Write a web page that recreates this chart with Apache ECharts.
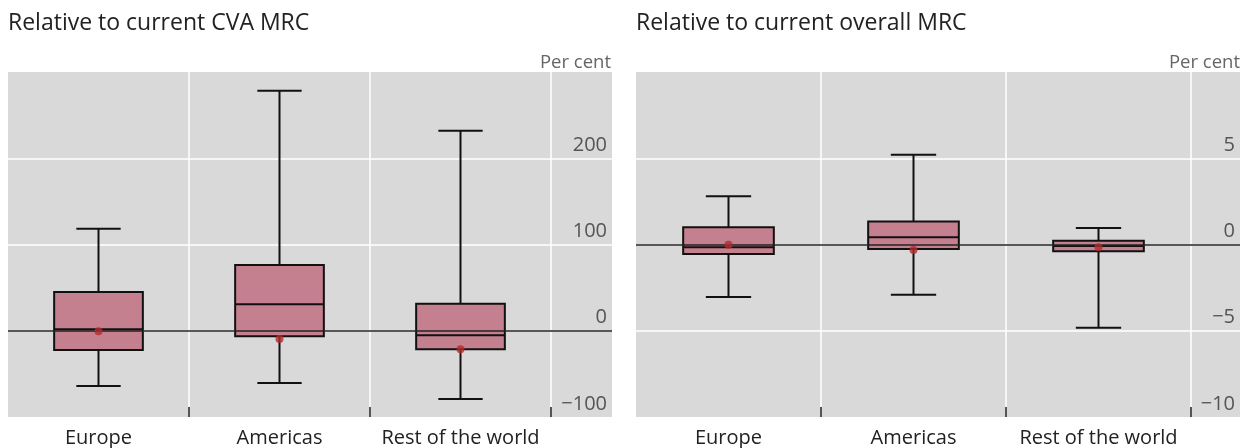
<!DOCTYPE html>
<html>
<head>
<meta charset="utf-8">
<script src="https://cdn.jsdelivr.net/npm/echarts@6/dist/echarts.min.js"></script>
<style>
html,body{margin:0;padding:0;background:#fff;}
#chart{width:1250px;height:448px;}
</style>
</head>
<body>
<div id="chart"></div>
<script>
// ---- Data ----
var categories = ['Europe', 'Americas', 'Rest of the world'];
var categoryPositions = [0.5, 1.5, 2.5];

// Left panel: relative to current CVA MRC (per cent)
var cvaMin    = [-64.1, -60.6, -79.1];
var cvaQ1     = [-22.3, -6.4, -21.5];
var cvaMedian = [1.7, 30.7, -5.3];
var cvaQ3     = [44.9, 76.2, 31.4];
var cvaMax    = [118.3, 278.3, 232.0];
var cvaMean   = [-0.6, -9.6, -21.5];

// Right panel: relative to current overall MRC (per cent)
var mrcMin    = [-3.04, -2.91, -4.82];
var mrcQ1     = [-0.55, -0.26, -0.39];
var mrcMedian = [-0.16, 0.42, -0.09];
var mrcQ3     = [1.00, 1.34, 0.22];
var mrcMax    = [2.79, 5.21, 0.96];
var mrcMean   = [-0.01, -0.32, -0.16];

var leftTicks = [-100, 0, 100, 200, 300];
var rightTicks = [-10, -5, 0, 5, 10];
var boundaryTicks = [1, 2, 3];

// ---- Build ----
function boxData(mn, q1, md, q3, mx) {
  return categories.map(function (c, i) {
    return [categoryPositions[i], mn[i], q1[i], md[i], q3[i], mx[i]];
  });
}
function meanData(m) {
  return categories.map(function (c, i) { return [categoryPositions[i], m[i]]; });
}

var FONT = '"Open Sans", "Noto Sans", sans-serif';
var BOX_FILL = '#c4808f';
var INK = '#111111';

function renderBox(params, api) {
  var x = api.value(0);
  var pMin = api.coord([x, api.value(1)]);
  var pQ1 = api.coord([x, api.value(2)]);
  var pMed = api.coord([x, api.value(3)]);
  var pQ3 = api.coord([x, api.value(4)]);
  var pMax = api.coord([x, api.value(5)]);
  var band = api.size([1, 0])[0];
  var bw = band * 0.49;
  var cw = band * 0.245;
  var cx = pMed[0];
  var ls = { stroke: INK, lineWidth: 2 };
  return {
    type: 'group',
    children: [
      { type: 'line', shape: { x1: cx, y1: pMax[1], x2: cx, y2: pQ3[1] }, style: ls },
      { type: 'line', shape: { x1: cx, y1: pQ1[1], x2: cx, y2: pMin[1] }, style: ls },
      { type: 'line', shape: { x1: cx - cw / 2, y1: pMax[1], x2: cx + cw / 2, y2: pMax[1] }, style: ls },
      { type: 'line', shape: { x1: cx - cw / 2, y1: pMin[1], x2: cx + cw / 2, y2: pMin[1] }, style: ls },
      { type: 'rect', shape: { x: cx - bw / 2, y: pQ3[1], width: bw, height: pQ1[1] - pQ3[1] },
        style: { fill: BOX_FILL, stroke: INK, lineWidth: 2 } },
      { type: 'line', shape: { x1: cx - bw / 2, y1: pMed[1], x2: cx + bw / 2, y2: pMed[1] }, style: ls }
    ]
  };
}

function minusFmt(v) { return String(v).replace('-', '\u2212'); }

function xAxisFor(gridIndex, max) {
  return {
    gridIndex: gridIndex,
    type: 'value',
    min: 0,
    max: max,
    interval: 1,
    axisLine: { show: false, onZero: false },
    axisTick: { show: true, inside: true, length: 10, customValues: boundaryTicks,
      lineStyle: { color: '#555', width: 2 } },
    splitLine: { show: true, lineStyle: { color: '#ffffff', width: 1.5 } },
    axisLabel: {
      customValues: categoryPositions,
      formatter: function (v) {
        var i = categoryPositions.indexOf(Math.round(v * 10) / 10);
        return i >= 0 ? categories[i] : '';
      },
      margin: 11,
      fontFamily: FONT, fontSize: 20, color: '#222'
    }
  };
}

function yAxisFor(gridIndex, ticks) {
  return {
    gridIndex: gridIndex,
    type: 'value',
    position: 'right',
    min: ticks[0],
    max: ticks[ticks.length - 1],
    interval: ticks[1] - ticks[0],
    axisLine: { show: false },
    axisTick: { show: false },
    splitLine: { show: true, showMinLine: false, showMaxLine: false,
      lineStyle: { color: '#ffffff', width: 1.5 } },
    axisLabel: {
      inside: true,
      margin: 5,
      showMaxLabel: false,
      verticalAlign: 'bottom',
      padding: [0, 0, 3, 0],
      formatter: minusFmt,
      fontFamily: FONT, fontSize: 20, color: '#555'
    }
  };
}

function panelSeries(idx, mn, q1, md, q3, mx, mean) {
  return [
    {
      type: 'custom',
      xAxisIndex: idx, yAxisIndex: idx,
      renderItem: renderBox,
      encode: { x: 0, y: [1, 2, 3, 4, 5] },
      data: boxData(mn, q1, md, q3, mx),
      z: 2,
      silent: true
    },
    {
      type: 'scatter',
      xAxisIndex: idx, yAxisIndex: idx,
      data: meanData(mean),
      symbol: 'circle',
      symbolSize: 8,
      itemStyle: { color: '#b32b2b' },
      z: 6,
      silent: true,
      markLine: {
        silent: true,
        symbol: 'none',
        label: { show: false },
        lineStyle: { color: '#222', width: 1.5, type: 'solid' },
        z: 5,
        data: [{ yAxis: 0 }]
      }
    }
  ];
}

var titleStyle = { fontFamily: FONT, fontSize: 23, fontWeight: 'normal', color: '#222' };
var unitStyle = { fontFamily: FONT, fontSize: 18.5, fontWeight: 'normal', color: '#666' };

var option = {
  animation: false,
  backgroundColor: '#ffffff',
  title: [
    { text: 'Relative to current CVA MRC', left: 8, top: 12, padding: 0, textStyle: titleStyle },
    { text: 'Relative to current overall MRC', left: 636, top: 12, padding: 0, textStyle: titleStyle },
    { text: 'Per cent', right: 639, top: 53, padding: 0, textStyle: unitStyle },
    { text: 'Per cent', right: 10, top: 53, padding: 0, textStyle: unitStyle }
  ],
  grid: [
    { left: 8, top: 72, width: 604, height: 345, show: true, backgroundColor: '#d9d9d9', borderWidth: 0 },
    { left: 636, top: 72, width: 604, height: 345, show: true, backgroundColor: '#d9d9d9', borderWidth: 0 }
  ],
  xAxis: [xAxisFor(0, 604 / 181), xAxisFor(1, 604 / 185)],
  yAxis: [yAxisFor(0, leftTicks), yAxisFor(1, rightTicks)],
  series: [].concat(
    panelSeries(0, cvaMin, cvaQ1, cvaMedian, cvaQ3, cvaMax, cvaMean),
    panelSeries(1, mrcMin, mrcQ1, mrcMedian, mrcQ3, mrcMax, mrcMean)
  )
};

var chart = echarts.init(document.getElementById('chart'), null, { renderer: 'canvas' });
chart.setOption(option);
</script>
</body>
</html>
